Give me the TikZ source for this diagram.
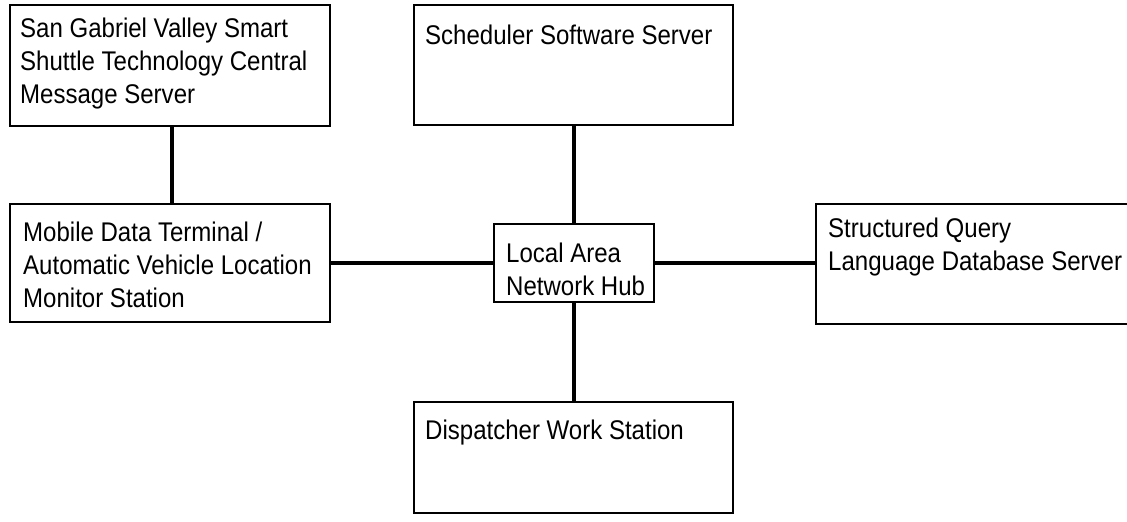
\documentclass[tikz,border=0pt]{standalone}
\usepackage{fontspec}
\setmainfont{Liberation Sans}[FakeStretch=0.89]
\begin{document}
\begin{tikzpicture}[x=1pt,y=-1pt,
  box/.style={draw=black,line width=1.8pt,fill=white},
  lbl/.style={anchor=north west,inner sep=0pt,align=left,font=\fontsize{27}{33}\selectfont},
  link/.style={draw=black,line width=3.6pt}]
\useasboundingbox (0,0) rectangle (1127,522);
\clip (0,0) rectangle (1127,522);
% boxes
\path[box] (10,5) rectangle (330,126) coordinate[pos=0.5] (c1);
\path[box] (414,5) rectangle (733,125);
\path[box] (10,204) rectangle (330,322);
\path[box] (494,224) rectangle (654,302);
\path[box] (816,204) rectangle (1140,324);
\path[box] (414,402) rectangle (733,513);
% named nodes for the boxes
\node[inner sep=0pt,minimum width=320pt,minimum height=121pt] (sgv) at (170,65.5) {};
\node[inner sep=0pt,minimum width=319pt,minimum height=120pt] (sched) at (573.5,65) {};
\node[inner sep=0pt,minimum width=320pt,minimum height=118pt] (mdt) at (170,263) {};
\node[inner sep=0pt,minimum width=160pt,minimum height=78pt] (hub) at (574,263) {};
\node[inner sep=0pt,minimum width=324pt,minimum height=120pt] (sql) at (978,264) {};
\node[inner sep=0pt,minimum width=319pt,minimum height=111pt] (disp) at (573.5,457.5) {};
% connectors
\draw[link] (sgv.south -| 172,0) -- (mdt.north -| 172,0);
\draw[link] (sched.south -| hub.north) -- (hub.north);
\draw[link] (hub.south) -- (disp.north -| hub.south);
\draw[link] (mdt.east |- hub.west) -- (hub.west);
\draw[link] (hub.east) -- (sql.west |- hub.east);
% texts
\node[lbl] (t1) at (20,18) {San Gabriel Valley Smart\\Shuttle Technology Central\\Message Server};
\node[lbl] (t2) at (425,25) {Scheduler Software Server};
\node[lbl] (t3) at (23,222) {Mobile Data Terminal /\\Automatic Vehicle Location\\Monitor Station};
\node[lbl] (t4) at (506,243) {Local Area\\Network Hub};
\node[lbl] (t5) at (828,218) {Structured Query\\Language Database Server};
\node[lbl] (t6) at (425,420) {Dispatcher Work Station};
\end{tikzpicture}
\end{document}
